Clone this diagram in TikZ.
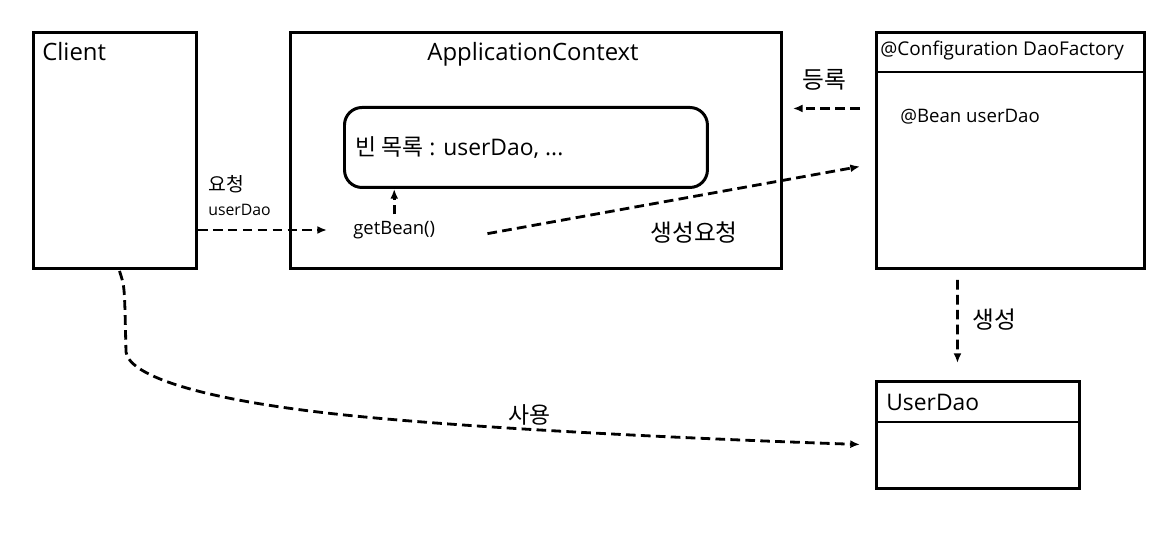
\documentclass[tikz,border=0pt]{standalone}
\usepackage{fontspec}
\setmainfont{Open Sans}
\newfontfamily\kr{Noto Sans CJK KR}
\usetikzlibrary{arrows.meta, positioning, calc}

\begin{document}
\begin{tikzpicture}[x=0.02cm, y=-0.02cm,
  box/.style={draw, line width=1.7pt, anchor=north west, inner sep=0pt},
  flow/.style={line width=1.6pt, dash pattern=on 5.5pt off 3pt, -{Latex[length=5.5pt,width=4.5pt]}},
  lbl/.style={inner sep=0pt, anchor=base west}]
\useasboundingbox (0,0) rectangle (1176,537);

% boxes
\node[box, minimum width=3.26cm, minimum height=4.72cm] (client) at (32,31) {};
\node[box, minimum width=9.82cm, minimum height=4.72cm] (ctx) at (289,31) {};
\node[box, minimum width=7.26cm, minimum height=1.6cm, rounded corners=0.35cm] (beans) at (343,106) {};
\node[box, minimum width=5.36cm, minimum height=4.72cm] (factory) at (875,31) {};
\node[box, minimum width=4.06cm, minimum height=2.14cm] (userdao) at (875,380) {};
\draw[line width=1.7pt] (factory.west |- 0,72) -- (factory.east |- 0,72);
\draw[line width=1.7pt] (userdao.west |- 0,422) -- (userdao.east |- 0,422);

% texts
\node[lbl, font=\fontsize{13.6}{15}\selectfont] (clienttxt) at (42,61) {Client};
\node[inner sep=0pt, anchor=base, font=\fontsize{13.6}{15}\selectfont] (ctxtxt) at (533,61) {ApplicationContext};
\node[lbl, font=\fontsize{13}{15}\selectfont] (beanlist) at (355,155) {{\kr 빈 목록} : userDao, ...};
\node[lbl, font=\fontsize{10.5}{12}\selectfont] (getbean) at (353,234) {getBean()};
\node[lbl, font=\fontsize{10.8}{12}\selectfont] (conf) at (880,56) {@Configuration DaoFactory};
\node[lbl, font=\fontsize{10.6}{12}\selectfont] (beanud) at (900,123) {@Bean userDao};
\node[lbl, font=\fontsize{13}{15}\selectfont] (udtxt) at (886,410) {UserDao};
\node[lbl, font=\kr\fontsize{11}{13}\selectfont] (req) at (208,191) {요청};
\node[lbl, font=\fontsize{9}{10}\selectfont] (requd) at (208,215) {userDao};
\node[lbl, font=\kr\fontsize{13.5}{15}\selectfont] (mkreq) at (650,241) {생성요청};
\node[lbl, font=\kr\fontsize{13.5}{15}\selectfont] (reg) at (802,89) {등록};
\node[lbl, font=\kr\fontsize{13.5}{15}\selectfont] (mk) at (972,328) {생성};
\node[lbl, font=\kr\fontsize{13}{15}\selectfont] (use) at (508,423) {사용};

% connectors
\draw[flow] (client.east |- 0,230) -- ([shift={(-26,0)}]getbean.west |- 0,230);
\draw[flow] ([shift={(0,-6)}]getbean.north) -- (beans.south -| getbean.north);
\draw[flow] ([shift={(52,4)}]getbean.east) -- ([shift={(-15,16)}]factory.west);
\draw[flow] ([shift={(-15,-42)}]factory.west) -- ([shift={(10,-42)}]ctx.east);
\draw[flow] ([shift={(-53,10)}]factory.south) -- ([shift={(-20.5,-17)}]userdao.north);
\draw[flow] ([shift={(4.5,1)}]client.south) .. controls (124,285) .. (125,310) -- (126,352)
  .. controls (129,374) and (190,396) .. (310,411)
  .. controls (420,425) and (640,437) .. ([shift={(-15,9.5)}]userdao.west);
\end{tikzpicture}
\end{document}
